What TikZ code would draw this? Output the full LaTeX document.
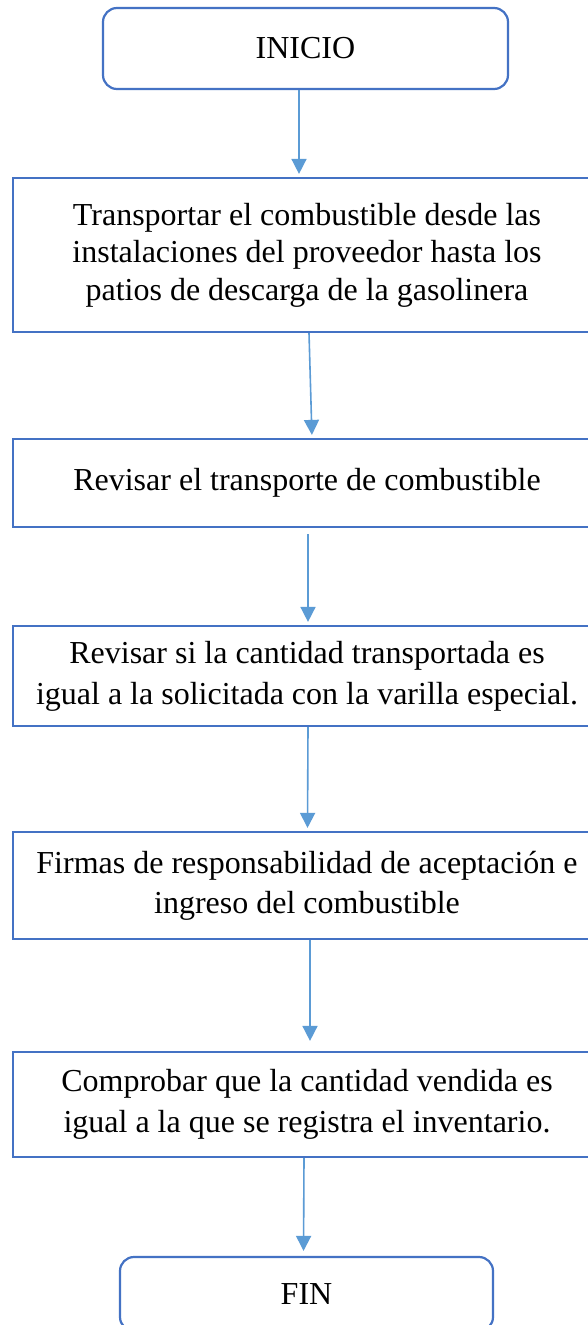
\documentclass[tikz,border=0pt]{standalone}
\usepackage{fontspec}
\setmainfont{Liberation Serif}
\usetikzlibrary{arrows.meta}
\definecolor{boxblue}{HTML}{4472C4}
\definecolor{arrowblue}{HTML}{5B9BD5}
\tikzset{
  termbox/.style={draw=boxblue, line width=2.2pt, rounded corners=14pt, inner sep=0pt,
    font=\fontsize{32}{38}\selectfont},
  procbox/.style={draw=boxblue, line width=2.2pt, inner sep=0pt, minimum width=588pt,
    align=center},
  flow/.style={draw=arrowblue, line width=1.6pt, -{Triangle[length=15pt,width=15pt]}}
}
\begin{document}
\begin{tikzpicture}[x=1pt,y=-1pt]
\clip (0,0) rectangle (588,1325);
\fill[white] (0,0) rectangle (588,1325);

\node[termbox, minimum width=405pt, minimum height=81pt] (inicio) at (305.5,48.5) {INICIO};

\node[procbox, minimum height=154pt, font=\fontsize{32}{37.5}\selectfont] (b1) at (307,255)
  {Transportar el combustible desde las\\instalaciones del proveedor hasta los\\patios de descarga de la gasolinera};

\node[procbox, minimum height=88pt, font=\fontsize{32}{41}\selectfont] (b2) at (307,483)
  {Revisar el transporte de combustible};

\node[procbox, minimum height=100pt, font=\fontsize{32}{41}\selectfont] (b3) at (307,676)
  {Revisar si la cantidad transportada es\\igual a la solicitada con la varilla especial.};

\node[procbox, minimum height=107pt, font=\fontsize{32}{40}\selectfont] (b4) at (307,885.5)
  {Firmas de responsabilidad de aceptación e\\ingreso del combustible};

\node[procbox, minimum height=105pt, font=\fontsize{32}{41}\selectfont] (b5) at (307,1104.5)
  {Comprobar que la cantidad vendida es\\igual a la que se registra el inventario.};

\node[termbox, minimum width=373pt, minimum height=74pt] (fin) at (306.5,1294) {FIN};

\draw[flow, shorten >=3pt] ([xshift=-6.5pt]inicio.south) -- ([xshift=-8pt]b1.north);
\draw[flow, shorten >=3pt] ([xshift=2pt]b1.south) -- ([xshift=5pt]b2.north);
\draw[flow, shorten <=6pt, shorten >=3pt] ([xshift=1pt]b2.south) -- ([xshift=1pt]b3.north);
\draw[flow, shorten >=3pt] ([xshift=1pt]b3.south) -- ([xshift=0.5pt]b4.north);
\draw[flow, shorten >=10pt] ([xshift=3pt]b4.south) -- ([xshift=3pt]b5.north);
\draw[flow, shorten >=5pt] ([xshift=-3pt]b5.south) -- ([xshift=-3pt]fin.north);
\end{tikzpicture}
\end{document}
